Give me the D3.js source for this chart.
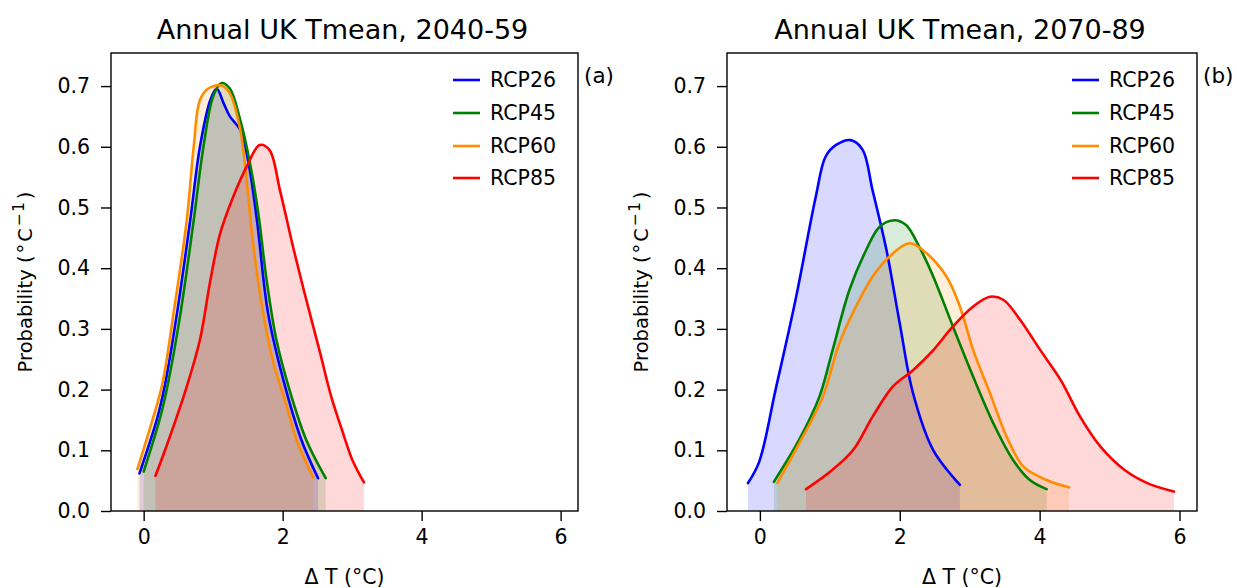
<!DOCTYPE html>
<html>
<head>
<meta charset="utf-8">
<script src="https://cdn.jsdelivr.net/npm/d3@7"></script>
<style>
  html, body { margin: 0; padding: 0; background: #fff; }
  svg { display: block; }
  text { font-family: "DejaVu Sans", sans-serif; fill: #000; }
</style>
</head>
<body>
<svg id="chart" width="1237" height="588"></svg>
<script>
// ---------- data ----------
const scenarios = ["RCP26", "RCP45", "RCP60", "RCP85"];
const colors = ["#0000ff", "#008000", "#ff8c00", "#ff0000"];
const xTicks = [0, 2, 4, 6];
const yTicks = [0.0, 0.1, 0.2, 0.3, 0.4, 0.5, 0.6, 0.7];
const titles = ["Annual UK Tmean, 2040-59", "Annual UK Tmean, 2070-89"];
const panelTags = ["(a)", "(b)"];

// Panel (a) 2040-59: [deltaT, probability]
const a_rcp26 = [[-0.06,0.062],[0.20,0.155],[0.31,0.21],[0.48,0.326],[0.67,0.479],[0.81,0.60],[0.96,0.677],[1.05,0.696],[1.15,0.672],[1.24,0.65],[1.39,0.628],[1.51,0.573],[1.63,0.479],[1.79,0.326],[2.01,0.216],[2.27,0.117],[2.51,0.054]];
const a_rcp45 = [[0.0,0.065],[0.24,0.155],[0.35,0.21],[0.53,0.326],[0.72,0.479],[0.86,0.60],[1.0,0.683],[1.12,0.705],[1.24,0.696],[1.39,0.644],[1.53,0.573],[1.65,0.49],[1.77,0.38],[1.91,0.282],[2.10,0.199],[2.34,0.117],[2.62,0.054]];
const a_rcp60 = [[-0.09,0.069],[0.14,0.155],[0.27,0.21],[0.43,0.326],[0.62,0.479],[0.72,0.60],[0.81,0.677],[0.93,0.696],[1.12,0.701],[1.24,0.688],[1.39,0.628],[1.48,0.546],[1.58,0.435],[1.72,0.326],[1.87,0.243],[2.06,0.172],[2.20,0.117],[2.44,0.055]];
const a_rcp85 = [[0.17,0.058],[0.36,0.117],[0.62,0.205],[0.81,0.282],[0.96,0.38],[1.10,0.457],[1.29,0.518],[1.48,0.567],[1.67,0.603],[1.81,0.595],[1.96,0.529],[2.15,0.435],[2.34,0.348],[2.54,0.26],[2.70,0.188],[2.87,0.128],[3.0,0.085],[3.17,0.047]];

// Panel (b) 2070-89
const b_rcp26 = [[-0.17,0.046],[-0.01,0.081],[0.225,0.20],[0.51,0.348],[0.80,0.518],[0.94,0.584],[1.09,0.603],[1.30,0.611],[1.47,0.595],[1.61,0.529],[1.81,0.43],[2.0,0.309],[2.19,0.194],[2.48,0.10],[2.86,0.043]];
const b_rcp45 = [[0.20,0.048],[0.56,0.117],[0.85,0.188],[1.04,0.265],[1.28,0.364],[1.52,0.43],[1.71,0.468],[1.925,0.479],[2.09,0.471],[2.28,0.435],[2.48,0.386],[2.76,0.304],[3.05,0.221],[3.34,0.144],[3.62,0.084],[3.86,0.051],[4.10,0.036]];
const b_rcp60 = [[0.25,0.046],[0.56,0.111],[0.90,0.188],[1.135,0.276],[1.375,0.337],[1.61,0.386],[1.85,0.419],[2.14,0.441],[2.38,0.425],[2.67,0.386],[2.86,0.337],[3.05,0.265],[3.29,0.194],[3.53,0.122],[3.77,0.073],[4.10,0.051],[4.42,0.039]];
const b_rcp85 = [[0.66,0.036],[1.04,0.068],[1.33,0.10],[1.61,0.155],[1.90,0.205],[2.19,0.232],[2.48,0.265],[2.76,0.304],[3.05,0.337],[3.29,0.353],[3.48,0.348],[3.72,0.315],[4.01,0.265],[4.30,0.216],[4.58,0.155],[4.87,0.106],[5.21,0.068],[5.54,0.046],[5.92,0.032]];

const panelSeries = [
  [a_rcp26, a_rcp45, a_rcp60, a_rcp85],
  [b_rcp26, b_rcp45, b_rcp60, b_rcp85]
];

// ---------- layout ----------
const svg = d3.select("#chart");
const panels = [
  { left: 111, right: 578, top: 53, bottom: 511, ylabX: 25 },
  { left: 727, right: 1197, top: 53, bottom: 511, ylabX: 641 }
];
const xDomain = [-0.47, 6.25];
const yDomain = [0, 0.7545];
const tickFont = 20.5;

panels.forEach((p, pi) => {
  const x = d3.scaleLinear().domain(xDomain).range([p.left, p.right]);
  const y = d3.scaleLinear().domain(yDomain).range([p.bottom, p.top]);
  const g = svg.append("g");

  const clipId = "clip" + pi;
  svg.append("defs").append("clipPath").attr("id", clipId)
    .append("rect").attr("x", p.left).attr("y", p.top)
    .attr("width", p.right - p.left).attr("height", p.bottom - p.top);

  const curve = d3.curveCatmullRom.alpha(0.5);
  const area = d3.area().x(d => x(d[0])).y0(y(0)).y1(d => y(d[1])).curve(curve);
  const line = d3.line().x(d => x(d[0])).y(d => y(d[1])).curve(curve);

  const plot = g.append("g").attr("clip-path", `url(#${clipId})`);
  panelSeries[pi].forEach((s, si) => {
    plot.append("path").attr("d", area(s))
      .attr("fill", colors[si]).attr("fill-opacity", 0.15).attr("stroke", "none");
  });
  panelSeries[pi].forEach((s, si) => {
    plot.append("path").attr("d", line(s))
      .attr("fill", "none").attr("stroke", colors[si]).attr("stroke-width", 2.6)
      .attr("stroke-linecap", "round").attr("stroke-linejoin", "round");
  });

  // axes
  const xAxis = d3.axisBottom(x).tickValues(xTicks).tickFormat(d3.format("d"))
    .tickSize(10).tickPadding(8);
  const yAxis = d3.axisLeft(y).tickValues(yTicks).tickFormat(d3.format(".1f"))
    .tickSize(10).tickPadding(11);
  const gx = g.append("g").attr("transform", `translate(0,${p.bottom})`).call(xAxis);
  const gy = g.append("g").attr("transform", `translate(${p.left},0)`).call(yAxis);
  [gx, gy].forEach(ax => {
    ax.select(".domain").remove();
    ax.selectAll(".tick line").attr("stroke", "#000").attr("stroke-width", 1.4);
    ax.selectAll(".tick text").attr("font-size", tickFont)
      .attr("font-family", "DejaVu Sans, sans-serif").attr("fill", "#000");
  });

  // frame
  g.append("rect").attr("x", p.left).attr("y", p.top)
    .attr("width", p.right - p.left).attr("height", p.bottom - p.top)
    .attr("fill", "none").attr("stroke", "#000").attr("stroke-width", 1.4);

  // title
  g.append("text").attr("x", (p.left + p.right) / 2 - 2).attr("y", 39)
    .attr("text-anchor", "middle").attr("font-size", 27).text(titles[pi]);

  // panel tag
  g.append("text").attr("x", p.right + 6).attr("y", 83)
    .attr("text-anchor", "start").attr("font-size", 21.5).text(panelTags[pi]);

  // x label
  g.append("text").attr("x", (p.left + p.right) / 2).attr("y", 584)
    .attr("text-anchor", "middle").attr("font-size", tickFont).text("Δ T (°C)");

  // y label
  const yl = g.append("text")
    .attr("transform", `translate(${p.ylabX + 7},${(p.top + p.bottom) / 2}) rotate(-90)`)
    .attr("text-anchor", "middle").attr("font-size", 19.5);
  yl.append("tspan").text("Probability (");
  yl.append("tspan").attr("dx", 2).text("°");
  yl.append("tspan").attr("dx", 2).text("C");
  yl.append("tspan").attr("font-size", 15.5).attr("dx", 2).attr("dy", -8).text("−");
  yl.append("tspan").attr("font-size", 15.5).attr("dx", 1).text("1");
  yl.append("tspan").attr("dx", 3).attr("dy", 8).text(")");

  // legend
  const lg = g.append("g");
  const lx0 = p.right - 125, rowY = [80, 113, 146, 178];
  scenarios.forEach((name, si) => {
    lg.append("line").attr("x1", lx0).attr("x2", lx0 + 27)
      .attr("y1", rowY[si]).attr("y2", rowY[si])
      .attr("stroke", colors[si]).attr("stroke-width", 2.6);
    lg.append("text").attr("x", lx0 + 37).attr("y", rowY[si])
      .attr("dy", "0.36em").attr("font-size", tickFont).text(name);
  });
});
</script>
</body>
</html>
